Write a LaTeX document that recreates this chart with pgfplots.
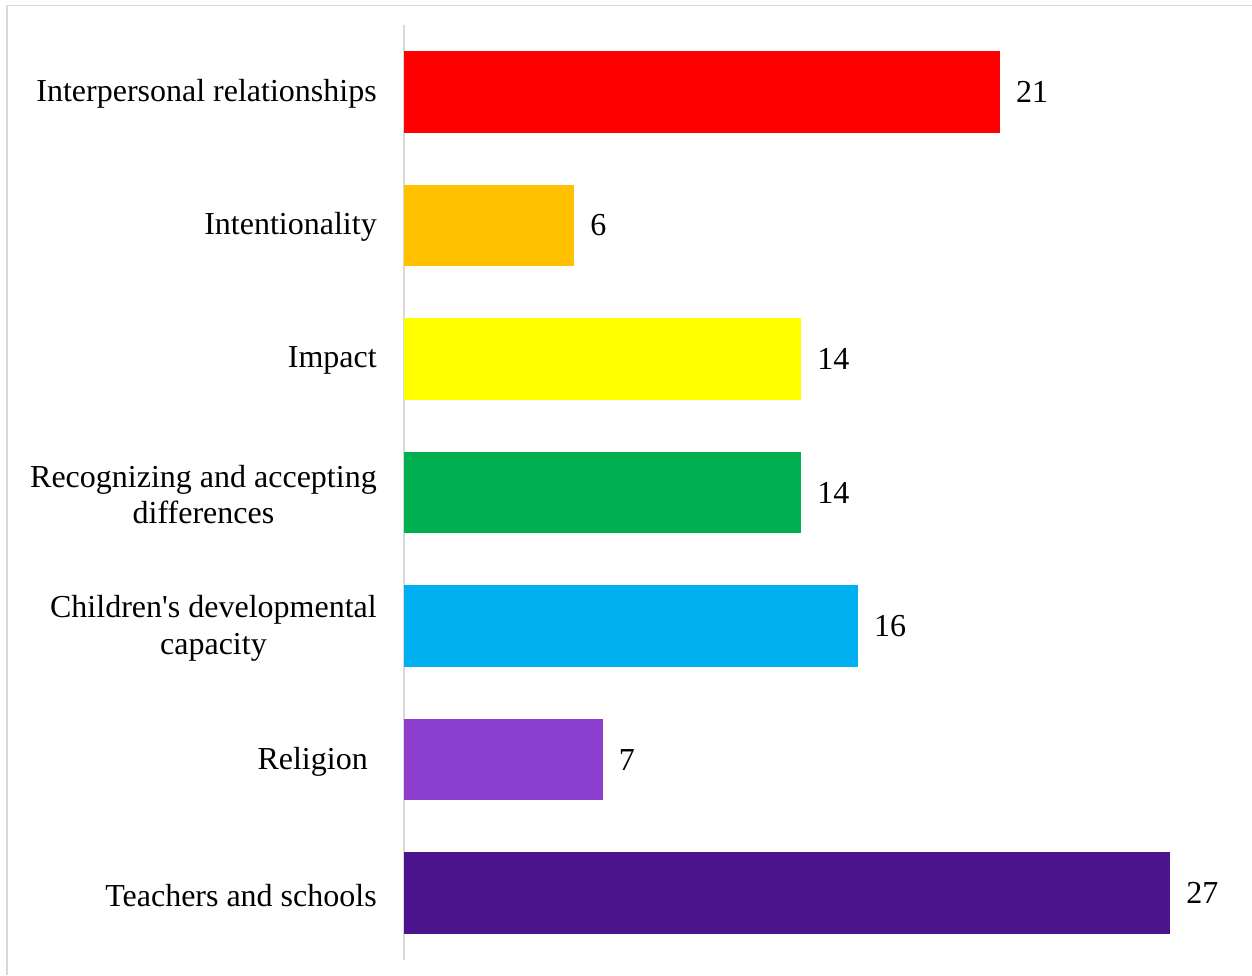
\documentclass[border=0pt]{standalone}
\usepackage{pgfplots}
\pgfplotsset{compat=1.18}
\usepackage{fontspec}
\setmainfont{Liberation Serif}
\definecolor{cA}{HTML}{FF0000}
\definecolor{cB}{HTML}{FFC000}
\definecolor{cC}{HTML}{FFFF00}
\definecolor{cD}{HTML}{00B050}
\definecolor{cE}{HTML}{00B0F0}
\definecolor{cF}{HTML}{8C3FCE}
\definecolor{cG}{HTML}{4B148C}
\definecolor{frame}{HTML}{D9D9D9}
\begin{document}
\begin{tikzpicture}
\useasboundingbox (0,0) rectangle (939pt,731.25pt);
\draw[color=frame, line width=1.1pt] (5.25pt,0pt) -- (5.25pt,727.1pt) -- (939pt,727.1pt);
\begin{axis}[
  at={(303pt,11.25pt)}, anchor=south west, scale only axis,
  width=574.5pt, height=701.25pt,
  xmin=0, xmax=27, ymin=-0.5, ymax=6.5,
  xbar, bar width=0.61, bar shift=0pt,
  axis x line=none, axis y line=left,
  y axis line style={-, draw=frame, line width=1.1pt},
  ytick={0,1,2,3,4,5,6},
  yticklabels={Teachers and schools, Religion\hspace*{6.75pt}, {Children\textquotesingle s developmental\\capacity}, {Recognizing and accepting\\differences}, Impact, Intentionality, Interpersonal relationships},
  major tick length=0pt,
  yticklabel style={font=\fontsize{24}{27.6}\selectfont, align=center, inner sep=0pt, xshift=-20.25pt, yshift=-1.5pt},
  point meta=x,
  nodes near coords,
  nodes near coords style={font=\fontsize{24}{27.6}\selectfont, anchor=west, inner sep=0pt, xshift=12pt, text=black},
  /pgf/number format/assume math mode=true,
  clip=false,
]
\addplot[fill=cG, draw=none] coordinates {(27,0)};
\addplot[fill=cF, draw=none] coordinates {(7,1)};
\addplot[fill=cE, draw=none] coordinates {(16,2)};
\addplot[fill=cD, draw=none] coordinates {(14,3)};
\addplot[fill=cC, draw=none] coordinates {(14,4)};
\addplot[fill=cB, draw=none] coordinates {(6,5)};
\addplot[fill=cA, draw=none] coordinates {(21,6)};
\end{axis}
\end{tikzpicture}
\end{document}
